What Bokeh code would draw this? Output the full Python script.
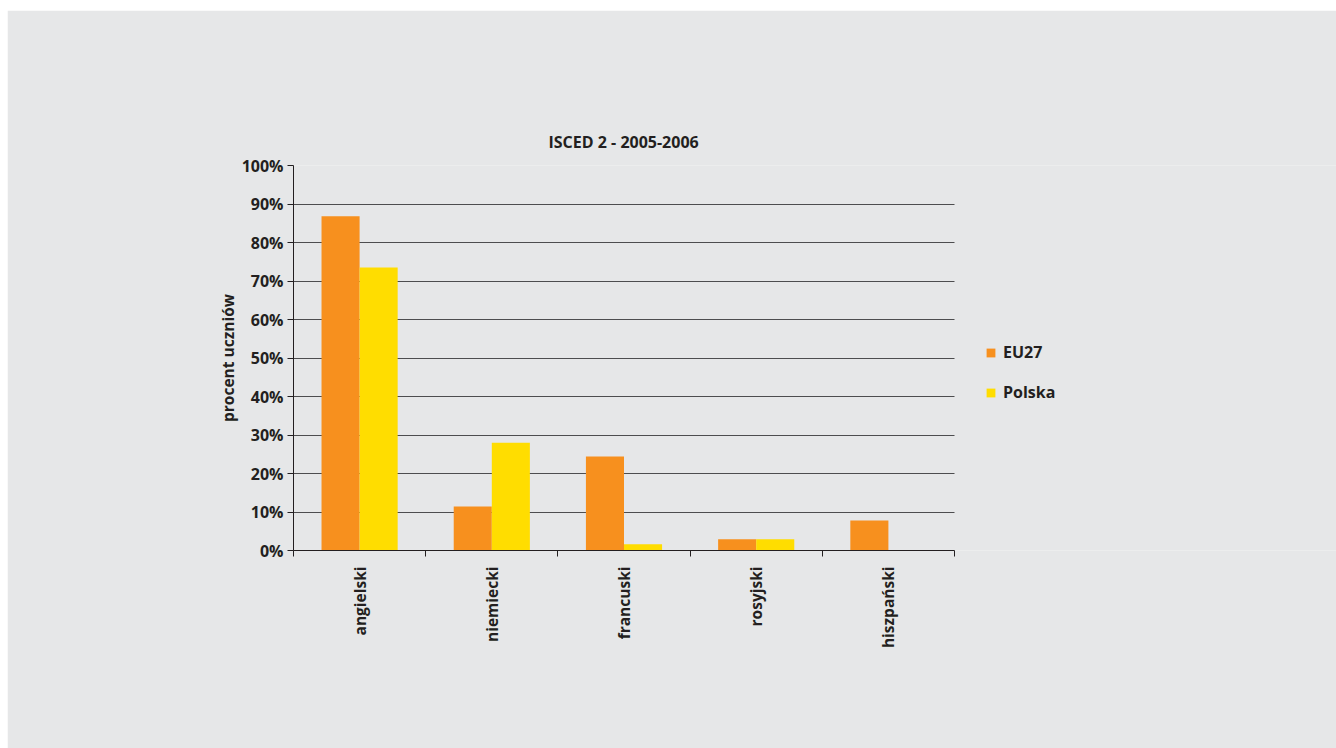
from bokeh.plotting import figure
from bokeh.models import (ColumnDataSource, Range1d, FixedTicker, Legend,
                          LegendItem, Spacer)
from bokeh.layouts import column, row
from bokeh.transform import dodge
from bokeh.embed import file_html
from bokeh.resources import INLINE

categories = ["angielski", "niemiecki", "francuski", "rosyjski", "hiszpański"]
eu27 = [86.8, 11.4, 24.4, 2.9, 7.8]
polska = [73.5, 28.0, 1.6, 2.9, 0.0]
y_ticks = [0, 10, 20, 30, 40, 50, 60, 70, 80, 90, 100]
series_names = ["EU27", "Polska"]
colors = ["#F7901E", "#FFDD00"]
title_text = "ISCED 2 - 2005-2006"
y_label = "procent uczniów"

BG = "#E6E7E8"
FONT = "Open Sans"
INK = "#231F20"

n = len(categories)
centers = [i + 0.5 for i in range(n)]
src = ColumnDataSource(dict(x=centers, cat=categories, eu27=eu27, polska=polska))

# frame spans to the right edge so the legend can sit inside it;
# the category area itself is 661 px of the 1043 px wide frame
FRAME_W = 1043
AXIS_W = 661
x_end = n * FRAME_W / AXIS_W

p = figure(x_range=Range1d(0, x_end), y_range=Range1d(0, 100),
           width=1329, height=738, output_backend="svg", toolbar_location=None,
           background_fill_color=BG, border_fill_color=BG, outline_line_color=None,
           min_border_left=286, min_border_right=0, min_border_top=155,
           min_border_bottom=198)

p.title.text = title_text
p.title.align = "left"
p.title.offset = 255
p.title.text_font = FONT
p.title.text_font_size = "16px"
p.title.text_font_style = "bold"
p.title.text_color = INK
p.title.standoff = 26

bw = 0.288
r1 = p.vbar(x=dodge("x", -bw / 2), top="eu27", width=bw,
            source=src, color=colors[0], line_color=None)
r2 = p.vbar(x=dodge("x", bw / 2), top="polska", width=bw,
            source=src, color=colors[1], line_color=None)

# y axis
ya = p.yaxis[0]
ya.ticker = FixedTicker(ticks=y_ticks)
ya.major_label_overrides = {v: f"{v}%" for v in y_ticks}
ya.minor_tick_line_color = None
ya.major_tick_out = 6
ya.major_tick_in = 0
ya.axis_line_color = INK
ya.major_tick_line_color = INK
ya.major_label_text_font = FONT
ya.major_label_text_font_size = "16px"
ya.major_label_text_font_style = "bold"
ya.major_label_text_color = INK
ya.major_label_standoff = 4
ya.axis_label = y_label
ya.axis_label_text_font = FONT
ya.axis_label_text_font_size = "15.5px"
ya.axis_label_text_font_style = "bold"
ya.axis_label_text_color = INK
ya.axis_label_standoff = 0

p.xgrid.grid_line_color = None
try:
    p.ygrid.ticker = FixedTicker(ticks=y_ticks)
    p.ygrid.grid_line_color = "#4D4D4F"
    p.ygrid.grid_line_width = 1
    p.ygrid.cross_bounds = (0, n)
except AttributeError:
    p.ygrid.grid_line_color = None
    p.segment(x0=0, x1=n, y0=y_ticks, y1=y_ticks, line_color="#4D4D4F",
              line_width=1, level="underlay")

# x axis: labels at category centres, ticks at category boundaries
xa = p.xaxis[0]
xa.bounds = (0, n)
xa.ticker = FixedTicker(ticks=centers, minor_ticks=list(range(n + 1)))
xa.major_label_overrides = {c: lab for c, lab in zip(centers, categories)}
xa.major_tick_line_color = None
xa.major_tick_out = 6
xa.major_tick_in = 0
xa.minor_tick_out = 6
xa.minor_tick_in = 0
xa.minor_tick_line_color = INK
xa.axis_line_color = INK
xa.major_label_orientation = 1.5708
xa.major_label_standoff = 10
xa.major_label_text_font = FONT
xa.major_label_text_font_size = "15.5px"
xa.major_label_text_font_style = "bold"
xa.major_label_text_color = INK

legend = Legend(items=[LegendItem(label=series_names[0], renderers=[r1]),
                       LegendItem(label=series_names[1], renderers=[r2])],
                location=(692, 147), orientation="vertical",
                background_fill_alpha=0, border_line_color=None,
                glyph_width=11, glyph_height=11, spacing=18,
                label_text_font=FONT, label_text_font_size="16px",
                label_text_font_style="bold", label_text_color=INK,
                label_standoff=7, padding=0, margin=0)
p.add_layout(legend, "center")

layout = column(Spacer(height=10), row(Spacer(width=7), p))

open("out.html", "w").write(file_html(layout, INLINE))
